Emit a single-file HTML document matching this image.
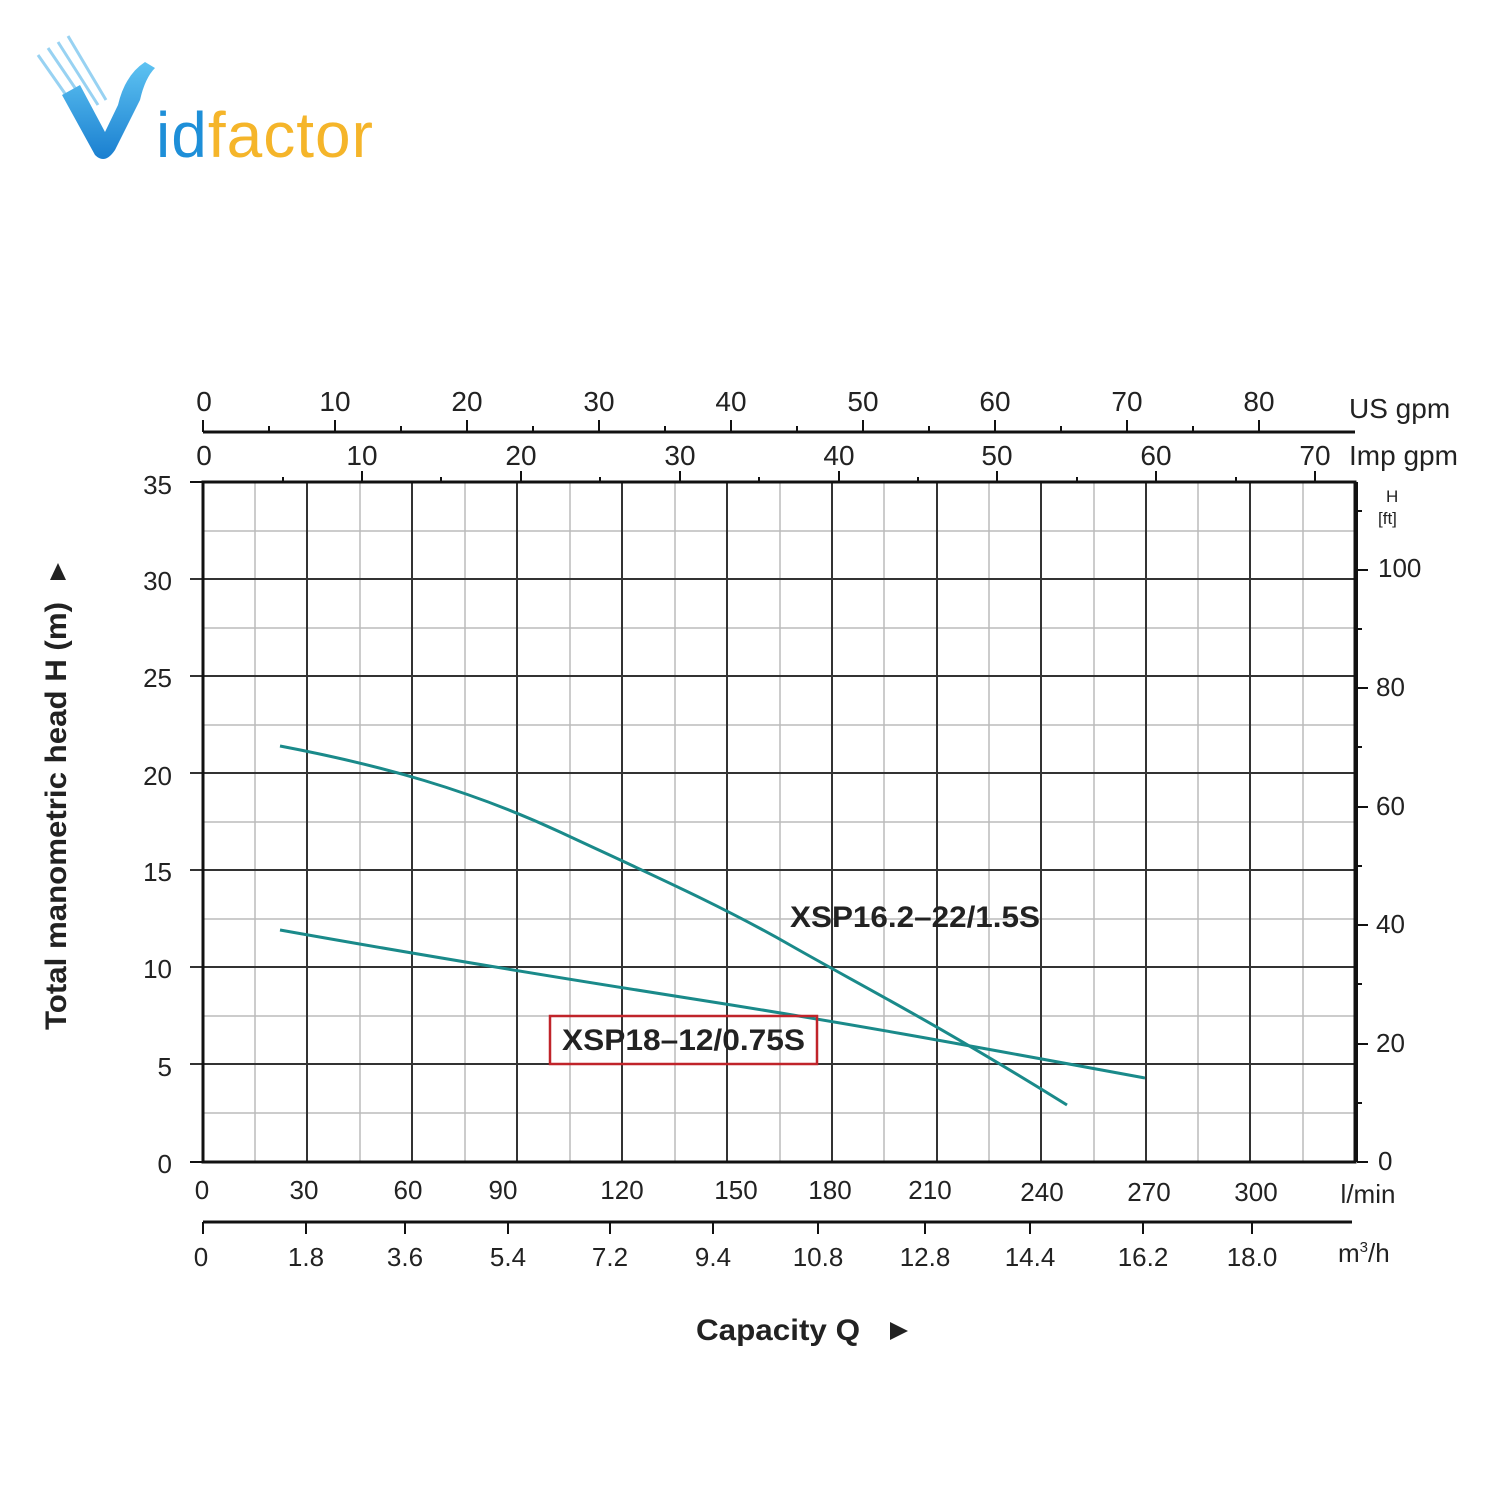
<!DOCTYPE html>
<html><head><style>body{margin:0;background:#fff}svg{display:block}</style></head><body>
<svg width="1500" height="1500" xmlns="http://www.w3.org/2000/svg" font-family="Liberation Sans, sans-serif">
<rect width="1500" height="1500" fill="#fff"/>
<defs><linearGradient id="b" x1="0" y1="0" x2="0" y2="1"><stop offset="0" stop-color="#5ec3f2"/><stop offset="1" stop-color="#1a7fd0"/></linearGradient></defs>
<g stroke="#7fc8f0" stroke-width="3" opacity="0.8">
<line x1="38" y1="55" x2="80" y2="115"/><line x1="48" y1="48" x2="90" y2="110"/><line x1="58" y1="42" x2="98" y2="105"/><line x1="68" y1="36" x2="106" y2="100"/></g>
<path d="M62 95 L95 155 Q105 165 115 150 L140 100 Q145 78 155 68 L145 62 Q125 75 118 105 L105 132 L80 85 Z" fill="url(#b)"/>
<text x="156" y="157" font-size="64" letter-spacing="1"><tspan fill="#1e8fd8">id</tspan><tspan fill="#f5b52a">factor</tspan></text>
<g stroke="#bbb" stroke-width="1.5">
<line x1="255" y1="482" x2="255" y2="1162"/><line x1="360" y1="482" x2="360" y2="1162"/><line x1="465" y1="482" x2="465" y2="1162"/><line x1="570" y1="482" x2="570" y2="1162"/><line x1="675" y1="482" x2="675" y2="1162"/><line x1="780" y1="482" x2="780" y2="1162"/><line x1="884" y1="482" x2="884" y2="1162"/><line x1="989" y1="482" x2="989" y2="1162"/><line x1="1094" y1="482" x2="1094" y2="1162"/><line x1="1198" y1="482" x2="1198" y2="1162"/><line x1="1303" y1="482" x2="1303" y2="1162"/>
<line x1="203" y1="531" x2="1355" y2="531"/><line x1="203" y1="628" x2="1355" y2="628"/><line x1="203" y1="725" x2="1355" y2="725"/><line x1="203" y1="822" x2="1355" y2="822"/><line x1="203" y1="919" x2="1355" y2="919"/><line x1="203" y1="1016" x2="1355" y2="1016"/><line x1="203" y1="1113" x2="1355" y2="1113"/>
</g>
<g stroke="#333" stroke-width="2">
<line x1="307" y1="482" x2="307" y2="1162"/><line x1="412" y1="482" x2="412" y2="1162"/><line x1="517" y1="482" x2="517" y2="1162"/><line x1="622" y1="482" x2="622" y2="1162"/><line x1="727" y1="482" x2="727" y2="1162"/><line x1="832" y1="482" x2="832" y2="1162"/><line x1="937" y1="482" x2="937" y2="1162"/><line x1="1041" y1="482" x2="1041" y2="1162"/><line x1="1146" y1="482" x2="1146" y2="1162"/><line x1="1250" y1="482" x2="1250" y2="1162"/>
<line x1="190" y1="579" x2="1355" y2="579"/><line x1="190" y1="676" x2="1355" y2="676"/><line x1="190" y1="773" x2="1355" y2="773"/><line x1="190" y1="870" x2="1355" y2="870"/><line x1="190" y1="967" x2="1355" y2="967"/><line x1="190" y1="1064" x2="1355" y2="1064"/>
</g>
<rect x="203" y="482" width="1152" height="680" fill="none" stroke="#111" stroke-width="3"/>
<line x1="190" y1="482" x2="203" y2="482" stroke="#111" stroke-width="2"/>
<line x1="190" y1="1162" x2="203" y2="1162" stroke="#111" stroke-width="2"/>
<g stroke="#111" stroke-width="2">
<line x1="1357" y1="482" x2="1357" y2="1162"/>
<line x1="1357" y1="1162" x2="1368" y2="1162"/><line x1="1357" y1="1044" x2="1368" y2="1044"/><line x1="1357" y1="925" x2="1368" y2="925"/><line x1="1357" y1="807" x2="1368" y2="807"/><line x1="1357" y1="688" x2="1368" y2="688"/><line x1="1357" y1="570" x2="1368" y2="570"/>
<line x1="1357" y1="1103" x2="1362" y2="1103"/><line x1="1357" y1="984" x2="1362" y2="984"/><line x1="1357" y1="866" x2="1362" y2="866"/><line x1="1357" y1="747" x2="1362" y2="747"/><line x1="1357" y1="629" x2="1362" y2="629"/><line x1="1357" y1="511" x2="1362" y2="511"/>
</g>
<g font-size="26" fill="#222">
<text x="1378" y="1170">0</text><text x="1376" y="1052">20</text><text x="1376" y="933">40</text><text x="1376" y="815">60</text><text x="1376" y="696">80</text><text x="1378" y="577">100</text>
</g>
<text x="1386" y="502" font-size="17" fill="#222">H</text><text x="1378" y="524" font-size="17" fill="#222">[ft]</text>
<g font-size="26" fill="#222" text-anchor="end">
<text x="172" y="494">35</text><text x="172" y="590">30</text><text x="172" y="687">25</text><text x="172" y="785">20</text><text x="172" y="881">15</text><text x="172" y="978">10</text><text x="172" y="1076">5</text><text x="172" y="1173">0</text>
</g>
<text transform="translate(66,1030) rotate(-90)" font-size="30" font-weight="bold" fill="#222" textLength="428" lengthAdjust="spacingAndGlyphs">Total manometric head H (m)</text>
<path d="M58 563 L66 580 L50 580 Z" fill="#222"/>
<g stroke="#111" stroke-width="3"><line x1="203" y1="432" x2="1355" y2="432"/></g>
<g stroke="#111" stroke-width="2">
<line x1="203" y1="420" x2="203" y2="432"/><line x1="335" y1="420" x2="335" y2="432"/><line x1="467" y1="420" x2="467" y2="432"/><line x1="599" y1="420" x2="599" y2="432"/><line x1="731" y1="420" x2="731" y2="432"/><line x1="863" y1="420" x2="863" y2="432"/><line x1="995" y1="420" x2="995" y2="432"/><line x1="1127" y1="420" x2="1127" y2="432"/><line x1="1259" y1="420" x2="1259" y2="432"/>
<line x1="269" y1="426" x2="269" y2="432"/><line x1="401" y1="426" x2="401" y2="432"/><line x1="533" y1="426" x2="533" y2="432"/><line x1="665" y1="426" x2="665" y2="432"/><line x1="797" y1="426" x2="797" y2="432"/><line x1="929" y1="426" x2="929" y2="432"/><line x1="1061" y1="426" x2="1061" y2="432"/><line x1="1193" y1="426" x2="1193" y2="432"/>
<line x1="362" y1="471" x2="362" y2="482"/><line x1="521" y1="471" x2="521" y2="482"/><line x1="680" y1="471" x2="680" y2="482"/><line x1="839" y1="471" x2="839" y2="482"/><line x1="997" y1="471" x2="997" y2="482"/><line x1="1156" y1="471" x2="1156" y2="482"/><line x1="1315" y1="471" x2="1315" y2="482"/>
<line x1="283" y1="477" x2="283" y2="482"/><line x1="441" y1="477" x2="441" y2="482"/><line x1="600" y1="477" x2="600" y2="482"/><line x1="759" y1="477" x2="759" y2="482"/><line x1="918" y1="477" x2="918" y2="482"/><line x1="1077" y1="477" x2="1077" y2="482"/><line x1="1236" y1="477" x2="1236" y2="482"/>
</g>
<g font-size="28" fill="#222" text-anchor="middle">
<text x="204" y="411">0</text><text x="335" y="411">10</text><text x="467" y="411">20</text><text x="599" y="411">30</text><text x="731" y="411">40</text><text x="863" y="411">50</text><text x="995" y="411">60</text><text x="1127" y="411">70</text><text x="1259" y="411">80</text>
<text x="204" y="465">0</text><text x="362" y="465">10</text><text x="521" y="465">20</text><text x="680" y="465">30</text><text x="839" y="465">40</text><text x="997" y="465">50</text><text x="1156" y="465">60</text><text x="1315" y="465">70</text>
</g>
<text x="1349" y="418" font-size="28" fill="#222">US gpm</text>
<text x="1349" y="465" font-size="28" fill="#222">Imp gpm</text>
<g font-size="26" fill="#222" text-anchor="middle">
<text x="202" y="1199">0</text><text x="304" y="1199">30</text><text x="408" y="1199">60</text><text x="503" y="1199">90</text><text x="622" y="1199">120</text><text x="736" y="1199">150</text><text x="830" y="1199">180</text><text x="930" y="1199">210</text><text x="1042" y="1201">240</text><text x="1149" y="1201">270</text><text x="1256" y="1201">300</text><text x="1368" y="1203">l/min</text>
<text x="201" y="1266">0</text><text x="306" y="1266">1.8</text><text x="405" y="1266">3.6</text><text x="508" y="1266">5.4</text><text x="610" y="1266">7.2</text><text x="713" y="1266">9.4</text><text x="818" y="1266">10.8</text><text x="925" y="1266">12.8</text><text x="1030" y="1266">14.4</text><text x="1143" y="1266">16.2</text><text x="1252" y="1266">18.0</text>
</g>
<text x="1338" y="1262" font-size="26" fill="#222">m<tspan font-size="15" dy="-10">3</tspan><tspan dy="10">/h</tspan></text>
<line x1="203" y1="1222" x2="1352" y2="1222" stroke="#111" stroke-width="3"/>
<g stroke="#111" stroke-width="2">
<line x1="203" y1="1222" x2="203" y2="1234"/><line x1="306" y1="1222" x2="306" y2="1234"/><line x1="405" y1="1222" x2="405" y2="1234"/><line x1="508" y1="1222" x2="508" y2="1234"/><line x1="610" y1="1222" x2="610" y2="1234"/><line x1="713" y1="1222" x2="713" y2="1234"/><line x1="818" y1="1222" x2="818" y2="1234"/><line x1="925" y1="1222" x2="925" y2="1234"/><line x1="1030" y1="1222" x2="1030" y2="1234"/><line x1="1143" y1="1222" x2="1143" y2="1234"/><line x1="1252" y1="1222" x2="1252" y2="1234"/>
</g>
<text x="696" y="1340" font-size="30" font-weight="bold" fill="#222" textLength="164" lengthAdjust="spacingAndGlyphs">Capacity Q</text>
<path d="M890 1322 L908 1331 L890 1340 Z" fill="#222"/>
<g fill="none" stroke="#1a8a8a" stroke-width="3">
<path d="M280 746 C380 765 470 790 560 832 S720 905 790 945 S930 1020 1067 1105"/>
<path d="M280 930 C420 955 560 978 700 1000 S950 1042 1145 1078"/>
</g>
<text x="790" y="927" font-size="30" font-weight="bold" fill="#222" textLength="250" lengthAdjust="spacingAndGlyphs">XSP16.2–22/1.5S</text>
<rect x="550" y="1016" width="267" height="48" fill="none" stroke="#c0242a" stroke-width="2.5"/>
<text x="562" y="1050" font-size="30" font-weight="bold" fill="#222" textLength="243" lengthAdjust="spacingAndGlyphs">XSP18–12/0.75S</text>
</svg>
</body></html>
